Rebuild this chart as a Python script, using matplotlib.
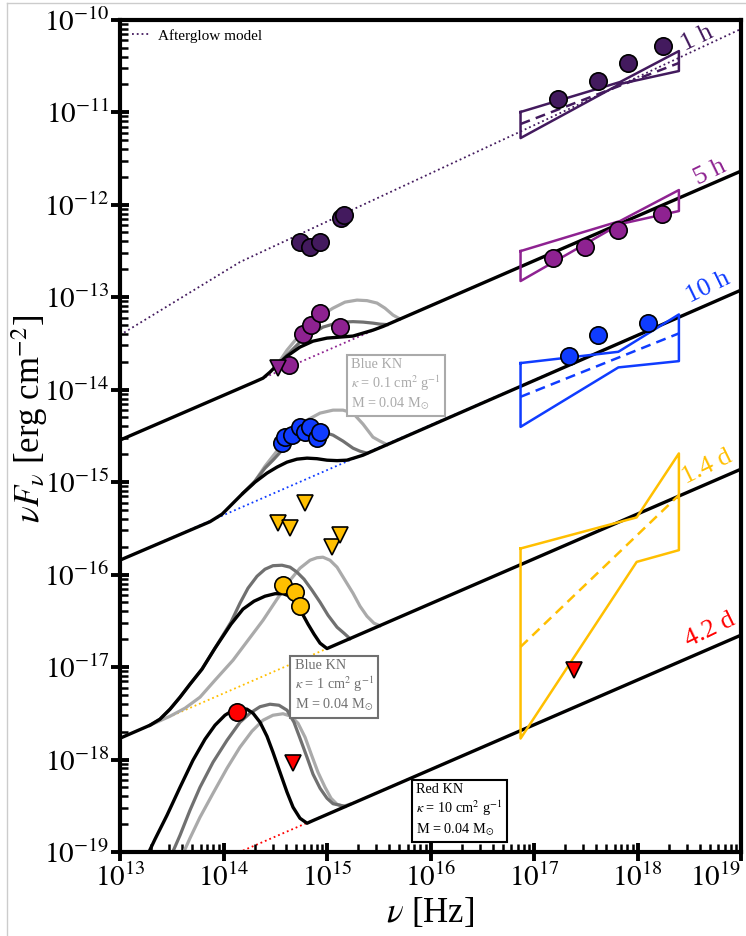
import numpy as np
import matplotlib
matplotlib.use("Agg")
import matplotlib.pyplot as plt
from matplotlib.lines import Line2D
from matplotlib.ticker import LogLocator, NullFormatter

plt.rcParams['font.family'] = ['Liberation Serif', 'DejaVu Serif']
plt.rcParams['mathtext.fontset'] = 'stix'

# ---------------- colours ----------------
C1H, C5H, C10H, C14D, C42D = '#431a5e', '#8e2291', '#0f3cff', '#ffbf00', '#ff0000'
DGRAY, LGRAY = '#707070', '#aaaaaa'

# ---------------- axis ticks ----------------
xtick_exp = [13, 14, 15, 16, 17, 18, 19]
ytick_exp = [-19, -18, -17, -16, -15, -14, -13, -12, -11, -10]

# ---------------- afterglow models (log10 nu, log10 nuFnu) ----------------
ag_1h_logx = [13.0, 14.16, 19.0]
ag_1h_logy = [-13.41, -12.62, -10.10]
ag_logx = [13.0, 19.0]
ag_5h_logy = [-14.546, -11.637]
ag_10h_logy = [-15.844, -12.924]
ag_14d_logy = [-17.770, -14.860]
ag_42d_logy = [-19.56, -16.655]

# ---------------- kilonova + afterglow totals (log10) ----------------
# 5 h
kn10_5h_x = [14.304, 14.382, 14.449, 14.517, 14.614, 14.739, 14.865, 15.000, 15.126, 15.251, 15.348, 15.444, 15.541]
kn10_5h_y = [-13.915, -13.876, -13.811, -13.735, -13.638, -13.540, -13.476, -13.443, -13.432, -13.421, -13.389, -13.357, -13.317]
kn1_5h_x = [14.517, 14.614, 14.739, 14.865, 14.961, 15.058, 15.155, 15.251, 15.348, 15.444, 15.512, 15.580]
kn1_5h_y = [-13.735, -13.627, -13.486, -13.389, -13.324, -13.292, -13.270, -13.265, -13.270, -13.281, -13.292, -13.297]
kn01_5h_x = [14.517, 14.614, 14.710, 14.807, 14.933, 15.058, 15.174, 15.290, 15.387, 15.483, 15.560, 15.638, 15.705]
kn01_5h_y = [-13.735, -13.573, -13.443, -13.335, -13.205, -13.119, -13.054, -13.032, -13.038, -13.064, -13.119, -13.194, -13.236]
# 10 h
kn10_10h_x = [13.870, 13.986, 14.082, 14.188, 14.304, 14.420, 14.517, 14.614, 14.710, 14.807, 14.903, 15.000, 15.097, 15.193, 15.271, 15.348]
kn10_10h_y = [-15.428, -15.347, -15.239, -15.120, -15.001, -14.903, -14.838, -14.784, -14.752, -14.741, -14.747, -14.763, -14.768, -14.763, -14.736, -14.709]
kn1_10h_x = [14.188, 14.304, 14.401, 14.478, 14.575, 14.672, 14.788, 14.903, 14.981, 15.058, 15.155, 15.251, 15.319, 15.386]
kn1_10h_y = [-15.120, -14.990, -14.849, -14.763, -14.644, -14.546, -14.481, -14.460, -14.465, -14.492, -14.557, -14.633, -14.666, -14.687]
kn01_10h_x = [14.188, 14.285, 14.401, 14.546, 14.672, 14.807, 14.933, 15.058, 15.155, 15.251, 15.348, 15.444, 15.512, 15.580]
kn01_10h_y = [-15.120, -15.022, -14.828, -14.622, -14.460, -14.330, -14.254, -14.222, -14.222, -14.254, -14.373, -14.514, -14.557, -14.595]
# 1.4 d
kn10_14d_x = [13.290, 13.386, 13.483, 13.580, 13.676, 13.792, 13.918, 14.072, 14.188, 14.295, 14.401, 14.498, 14.575,
              14.643, 14.701, 14.759, 14.817, 14.875, 14.933, 15.000]
kn10_14d_y = [-17.629, -17.564, -17.456, -17.326, -17.186, -17.023, -16.796, -16.537, -16.374, -16.288, -16.234, -16.207, -16.207,
              -16.234, -16.310, -16.418, -16.537, -16.645, -16.742, -16.800]
kn1_14d_x = [13.290, 13.386, 13.483, 13.580, 13.676, 13.792, 13.918, 14.072, 14.159, 14.237, 14.324, 14.401, 14.478, 14.565,
             14.643, 14.710, 14.778, 14.855, 14.933, 15.010, 15.097, 15.164, 15.222]
kn1_14d_y = [-17.629, -17.564, -17.456, -17.326, -17.186, -17.023, -16.796, -16.515, -16.310, -16.147, -16.018, -15.942, -15.904, -15.899,
             -15.920, -15.974, -16.050, -16.169, -16.299, -16.440, -16.569, -16.634, -16.693]
kn01_14d_x = [13.290, 13.483, 13.628, 13.773, 13.918, 14.092, 14.237, 14.382, 14.517, 14.643, 14.739, 14.836, 14.903, 14.961,
              15.029, 15.097, 15.174, 15.251, 15.319, 15.386, 15.454, 15.512]
kn01_14d_y = [-17.629, -17.532, -17.445, -17.326, -17.142, -16.926, -16.710, -16.494, -16.266, -16.061, -15.931, -15.845, -15.818, -15.812,
              -15.845, -15.920, -16.061, -16.201, -16.342, -16.450, -16.526, -16.553]
# 4.2 d
kn10_42d_x = [13.241, 13.338, 13.454, 13.580, 13.705, 13.821, 13.918, 14.014, 14.092, 14.159, 14.227, 14.285, 14.353, 14.420,
              14.478, 14.546, 14.614, 14.672, 14.739, 14.807, 14.865]
kn10_42d_y = [-19.090, -18.862, -18.603, -18.300, -18.008, -17.781, -17.629, -17.521, -17.467, -17.445, -17.456, -17.499, -17.597, -17.748,
              -17.921, -18.138, -18.354, -18.516, -18.635, -18.689, -18.660]
kn1_42d_x = [13.483, 13.580, 13.676, 13.773, 13.899, 14.034, 14.159, 14.256, 14.353, 14.449, 14.536, 14.614, 14.681, 14.739,
             14.807, 14.865, 14.933, 15.000, 15.058, 15.174]
kn1_42d_y = [-19.068, -18.819, -18.549, -18.300, -18.029, -17.792, -17.597, -17.499, -17.429, -17.402, -17.413, -17.467, -17.597, -17.770,
             -17.976, -18.159, -18.311, -18.419, -18.478, -18.506]
kn01_42d_x = [13.589, 13.676, 13.773, 13.899, 14.034, 14.159, 14.275, 14.382, 14.478, 14.575, 14.652, 14.720, 14.788, 14.855,
              14.913, 14.981, 15.039, 15.097, 15.155, 15.222]
kn01_42d_y = [-19.068, -18.851, -18.624, -18.365, -18.094, -17.867, -17.694, -17.575, -17.521, -17.505, -17.532, -17.608, -17.759, -17.965,
              -18.138, -18.300, -18.419, -18.484, -18.506, -18.483]

# ---------------- observations (log10) ----------------
opt_1h_x = [14.739, 14.836, 14.933, 15.135, 15.164]
opt_1h_y = [-12.405, -12.459, -12.405, -12.145, -12.112]
xr_1h_x = [17.232, 17.619, 17.909, 18.247]
xr_1h_y = [-10.858, -10.663, -10.468, -10.284]

opt_5h_x = [14.633, 14.768, 14.846, 14.933, 15.126]
opt_5h_y = [-13.735, -13.400, -13.302, -13.173, -13.324]
ul_5h_x = [14.527]
ul_5h_y = [-13.767]
xr_5h_x = [17.184, 17.493, 17.812, 18.237]
xr_5h_y = [-12.578, -12.459, -12.275, -12.102]

opt_10h_x = [14.565, 14.594, 14.662, 14.739, 14.787, 14.836, 14.904, 14.933]
opt_10h_y = [-14.579, -14.514, -14.492, -14.406, -14.460, -14.406, -14.525, -14.460]
xr_10h_x = [17.338, 17.619, 18.102]
xr_10h_y = [-13.638, -13.411, -13.281]

opt_14d_x = [14.575, 14.691, 14.739]
opt_14d_y = [-16.115, -16.191, -16.342]
ul_14d_x = [14.527, 14.643, 14.787, 15.048, 15.126]
ul_14d_y = [-15.444, -15.498, -15.228, -15.704, -15.574]

opt_42d_x = [14.130]
opt_42d_y = [-17.489]
ul_42d_x = [14.672, 17.386]
ul_42d_y = [-18.040, -17.034]

# ---------------- X-ray spectral bowties (log10) ----------------
bt_x = [16.87, 17.831, 18.40]
bt_1h_up = [-10.998, -10.674, -10.339]
bt_1h_lo = [-11.280, -10.695, -10.555]
bt_1h_mid = [-11.128, -10.468]
bt_5h_up = [-12.502, -12.177, -11.842]
bt_5h_lo = [-12.826, -12.210, -12.069]
bt_10h_x = [16.87, 17.815, 18.40]
bt_10h_up = [-13.713, -13.591, -13.187]
bt_10h_lo = [-14.403, -13.760, -13.692]
bt_10h_mid = [-14.078, -13.392]
bt_14d_x = [16.87, 17.992, 18.40]
bt_14d_up = [-15.718, -15.382, -14.690]
bt_14d_lo = [-17.773, -15.863, -15.736]
bt_14d_mid = [-16.782, -15.141]
bt_mid_x = [16.87, 18.40]

P = lambda a: np.power(10.0, np.asarray(a, dtype=float))

fig = plt.figure(figsize=(7.46, 9.36), dpi=100)
ax = fig.add_axes([120/746, 1-852/936, 621/746, 832.3/936])
ax.set_xscale('log'); ax.set_yscale('log')

# afterglow dotted
ax.plot(P(ag_1h_logx), P(ag_1h_logy), ':', color=C1H, lw=1.3, zorder=1)
for yy, c in [(ag_5h_logy, C5H), (ag_10h_logy, C10H), (ag_14d_logy, C14D), (ag_42d_logy, C42D)]:
    ax.plot(P(ag_logx), P(yy), ':', color=c, lw=1.3, zorder=1)

# grey KN curves
for x, y, c in [(kn01_5h_x, kn01_5h_y, LGRAY), (kn1_5h_x, kn1_5h_y, DGRAY),
                (kn01_10h_x, kn01_10h_y, LGRAY), (kn1_10h_x, kn1_10h_y, DGRAY),
                (kn01_14d_x, kn01_14d_y, LGRAY), (kn1_14d_x, kn1_14d_y, DGRAY),
                (kn01_42d_x, kn01_42d_y, LGRAY), (kn1_42d_x, kn1_42d_y, DGRAY)]:
    ax.plot(P(x), P(y), '-', color=c, lw=2.3, zorder=2, solid_joinstyle='round')

# black totals
for agy, kx, ky in [(ag_5h_logy, kn10_5h_x, kn10_5h_y), (ag_10h_logy, kn10_10h_x, kn10_10h_y),
                    (ag_14d_logy, kn10_14d_x, kn10_14d_y)]:
    ax.plot(P([13.0] + kx + [19.0]), P([agy[0]] + ky + [agy[1]]), '-', color='black', lw=2.4,
            zorder=3, solid_joinstyle='round')
ax.plot(P(kn10_42d_x + [19.0]), P(kn10_42d_y + [ag_42d_logy[1]]), '-', color='black', lw=2.4,
        zorder=3, solid_joinstyle='round')

# bowties
def bowtie(xs, up, lo, c, mid=None):
    px = list(xs) + [xs[-1]] + list(xs[::-1]) + [xs[0]]
    py = list(up) + [lo[-1]] + list(lo[::-1]) + [up[0]]
    ax.plot(P(px), P(py), '-', color=c, lw=1.8, zorder=3.5)
    if mid is not None:
        ax.plot(P(bt_mid_x), P(mid), '--', color=c, lw=1.8, zorder=3.5, dashes=(4, 2.5))

bowtie(bt_x, bt_1h_up, bt_1h_lo, C1H, bt_1h_mid)
bowtie(bt_x, bt_5h_up, bt_5h_lo, C5H)
bowtie(bt_10h_x, bt_10h_up, bt_10h_lo, C10H, bt_10h_mid)
bowtie(bt_14d_x, bt_14d_up, bt_14d_lo, C14D, bt_14d_mid)

# markers
mk = dict(ls='none', mec='black', mew=1.2, zorder=5)
for x, y, c in [(opt_1h_x, opt_1h_y, C1H), (xr_1h_x, xr_1h_y, C1H),
                (opt_5h_x, opt_5h_y, C5H), (xr_5h_x, xr_5h_y, C5H),
                (opt_10h_x, opt_10h_y, C10H), (xr_10h_x, xr_10h_y, C10H),
                (opt_14d_x, opt_14d_y, C14D), (opt_42d_x, opt_42d_y, C42D)]:
    ax.plot(P(x), P(y), 'o', mfc=c, ms=12.5, **mk)
for x, y, c in [(ul_5h_x, ul_5h_y, C5H), (ul_14d_x, ul_14d_y, C14D), (ul_42d_x, ul_42d_y, C42D)]:
    ax.plot(P(x), P(y), 'v', mfc=c, ms=12, **mk)

# epoch labels
for s, lx, ly, c in [('1 h', 18.575, -10.198, C1H), ('5 h', 18.701, -11.647, C5H),
                     ('10 h', 18.681, -12.891, C10H), ('1.4 d', 18.672, -14.838, C14D),
                     ('4.2 d', 18.701, -16.602, C42D)]:
    ax.text(10**lx, 10**ly, s, color=c, fontsize=19, rotation=26, ha='center', va='center', zorder=6)

# model boxes
box_txt1 = 'Blue KN\n$\\kappa$ = 0.1 cm$^2$ g$^{-1}$\nM = 0.04 M$_{\\odot}$'
box_txt2 = 'Blue KN\n$\\kappa$ = 1 cm$^2$ g$^{-1}$\nM = 0.04 M$_{\\odot}$'
box_txt3 = 'Red KN\n$\\kappa$ = 10 cm$^2$ g$^{-1}$\nM = 0.04 M$_{\\odot}$'
for s, bx, by, c in [(box_txt1, 0.372, 0.594, LGRAY), (box_txt2, 0.281, 0.232, DGRAY),
                     (box_txt3, 0.477, 0.0830, 'black')]:
    ax.text(bx, by, s, transform=ax.transAxes, color=c, fontsize=10.3, ha='left', va='top',
            linespacing=1.2, zorder=6,
            bbox=dict(boxstyle='square,pad=0.3', fc='white', ec=c, lw=1.5))

ax.legend(handles=[Line2D([], [], color=C1H, ls=':', lw=1.3)], labels=['Afterglow model'],
          loc='upper left', frameon=False, fontsize=11, handlelength=1.2,
          bbox_to_anchor=(0.004, 1.0), borderaxespad=0.2, handletextpad=0.5)

ax.set_xlim(1e13, 1e19)
ax.set_ylim(1e-19, 1e-10)
ax.set_xticks(P(xtick_exp))
ax.set_xticklabels([r'$10^{%d}$' % e for e in xtick_exp])
ax.set_yticks(P(ytick_exp))
ax.set_yticklabels([r'$10^{%d}$' % e for e in ytick_exp])
ax.xaxis.set_minor_locator(LogLocator(base=10, subs=np.arange(2, 10), numticks=100))
ax.yaxis.set_minor_locator(LogLocator(base=10, subs=np.arange(2, 10), numticks=100))
ax.xaxis.set_minor_formatter(NullFormatter())
ax.yaxis.set_minor_formatter(NullFormatter())
ax.get_xticklabels()[-1].set_horizontalalignment('right')

for sp in ax.spines.values():
    sp.set_linewidth(3.0)
ax.tick_params(which='major', direction='inout', length=13, width=2.8, labelsize=21,
               top=False, right=False)
ax.tick_params(which='minor', direction='in', length=5.5, width=1.8, top=False, right=False)
ax.tick_params(axis='x', which='major', pad=2)
ax.tick_params(axis='y', which='major', pad=1)
ax.set_xlabel(r'$\nu$ [Hz]', fontsize=25)
ax.set_ylabel(r'$\nu F_\nu$ [erg cm$^{-2}$]', fontsize=25)
ax.xaxis.set_label_coords(0.5, -0.053)
ax.yaxis.set_label_coords(-0.112, 0.52)

# thin frame at figure edge
fig.add_artist(Line2D([7/746, 7/746], [0, 1-3/936], color='#cccccc', lw=1.0))
fig.add_artist(Line2D([7/746, 1], [1-3/936, 1-3/936], color='#cccccc', lw=1.0))

fig.savefig('out.png', dpi=100)
